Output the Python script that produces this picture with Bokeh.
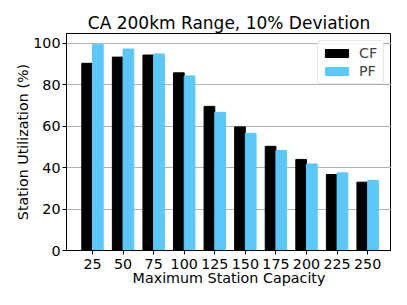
from bokeh.plotting import figure
from bokeh.models import ColumnDataSource, Range1d, FixedTicker, Legend, LegendItem
from bokeh.transform import dodge
from bokeh.embed import file_html
from bokeh.resources import INLINE

title_text = "CA 200km Range, 10% Deviation"
capacities = [25, 50, 75, 100, 125, 150, 175, 200, 225, 250]
cf = [90.4, 93.4, 94.4, 85.8, 69.6, 59.7, 50.3, 44.0, 36.7, 33.0]
pf = [99.4, 97.3, 94.9, 84.3, 66.7, 56.6, 48.3, 41.8, 37.5, 33.8]

src = ColumnDataSource(data=dict(cap=capacities, cf=cf, pf=pf))

FONT = "DejaVu Sans"
p = figure(width=391, height=289, output_backend="svg", toolbar_location=None,
           x_range=Range1d(3.75, 269.5), y_range=Range1d(0, 104.8),
           min_border_left=66, min_border_right=0, min_border_top=33, min_border_bottom=39)

p.title.text = title_text
p.title.text_font = FONT
p.title.text_font_size = "17px"
p.title.text_font_style = "normal"
p.title.align = "center"
p.title.text_color = "black"
p.title.standoff = 2

r1 = p.vbar(x=dodge("cap", -4.375, range=p.x_range), top="cf", width=8.75, source=src,
            fill_color="black", line_color="black")
r2 = p.vbar(x=dodge("cap", 4.375, range=p.x_range), top="pf", width=8.75, source=src,
            fill_color="#5AC8FA", line_color="#5AC8FA")

p.xaxis.ticker = FixedTicker(ticks=capacities)
p.yaxis.ticker = FixedTicker(ticks=[0, 20, 40, 60, 80, 100])
p.xaxis.axis_label = "Maximum Station Capacity"
p.yaxis.axis_label = "Station Utilization (%)"
for ax in (p.xaxis, p.yaxis):
    ax.axis_label_text_font = FONT
    ax.axis_label_text_font_size = "14.3px"
    ax.axis_label_text_font_style = "normal"
    ax.axis_label_text_color = "black"
    ax.major_label_text_font = FONT
    ax.major_label_text_font_size = "14.3px"
    ax.major_label_text_color = "black"
    ax.major_tick_out = 4
    ax.major_tick_in = 0
    ax.minor_tick_line_color = None
    ax.axis_line_color = "black"
    ax.major_tick_line_color = "black"
p.xaxis.axis_label_standoff = -2
p.yaxis.axis_label_standoff = -1
p.xaxis.major_label_standoff = 4
p.yaxis.major_label_standoff = 2

p.xgrid.grid_line_color = None
p.ygrid.grid_line_color = "#b0b0b0"
p.ygrid.grid_line_width = 1
p.outline_line_color = "black"
p.outline_line_width = 1

legend = Legend(items=[LegendItem(label="CF", renderers=[r1]),
                       LegendItem(label="PF", renderers=[r2])],
                location="top_right")
legend.label_text_font = FONT
legend.label_text_font_size = "14.3px"
legend.glyph_width = 29
legend.glyph_height = 10
legend.border_line_color = "#d0d0d0"
legend.border_radius = 3
legend.padding = 4
legend.spacing = 2
legend.margin = 7
legend.label_standoff = 8
legend.background_fill_alpha = 0.9
p.add_layout(legend)

open("out.html", "w").write(file_html(p, INLINE))
